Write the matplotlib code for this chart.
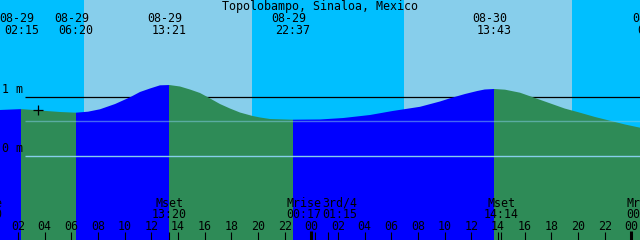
import numpy as np
import pandas as pd
import matplotlib
matplotlib.use("Agg")
import matplotlib.pyplot as plt
from matplotlib.patches import Polygon

# ── data ──────────────────────────────────────────────────────────
TITLE = "Topolobampo, Sinaloa, Mexico"

tide_when = ["08-29 02:15", "08-29 06:20", "08-29 13:21", "08-29 22:37",
             "08-30 13:43", "08-31 01:44"]
tide_kind = ["high", "low", "high", "low", "high", "low"]

moon_when = ["08-28 23:30", "08-29 13:20", "08-30 00:17", "08-30 01:15",
             "08-30 14:14", "08-31 00:58"]
moon_what = ["Mrise", "Mset", "Mrise", "3rd/4", "Mset", "Mrise"]

sunrise = ["08-29 06:55", "08-30 06:55"]
sunset = ["08-29 19:34", "08-30 19:33"]

# water level (m) sampled off the curve, hours after 08-29 00:00
curve_hours = [0.65, 2.25, 3.65, 5.15, 6.33, 7.25, 8.15, 9.28, 10.4, 11.15,
               11.9, 12.65, 13.35, 14.15, 14.9, 15.65, 16.25, 17.15, 17.9,
               18.65, 19.6, 20.15, 20.9, 22.62, 24.65, 26.4, 28.4, 30.1, 32.15,
               33.65, 34.4, 35.53, 36.45, 37.0, 37.72, 38.53, 39.65, 40.78,
               41.9, 43.0, 44.15, 45.28, 46.4, 47.53, 48.65]
curve_m = [0.785, 0.80, 0.776, 0.751, 0.739, 0.756, 0.797, 0.886, 1.00, 1.09,
           1.149, 1.203, 1.208, 1.183, 1.132, 1.073, 1.00, 0.886, 0.81,
           0.742, 0.683, 0.658, 0.632, 0.62, 0.624, 0.649, 0.70, 0.768, 0.839,
           0.929, 0.983, 1.056, 1.107, 1.132, 1.141, 1.129, 1.078, 0.988,
           0.898, 0.81, 0.739, 0.666, 0.603, 0.539, 0.485]

level_marks = [1.0, 0.0]
mean_level = 0.60

# ── palette ───────────────────────────────────────────────────────
NIGHT = "#00BFFF"
DAY = "#87CEEB"
FLOOD = "#0000FF"
EBB = "#2E8B57"
MARK = "#87CEEB"

# ── geometry: 640 x 240 px, 48 h across ───────────────────────────
W, H = 640, 240
T0 = 0.65            # hours at left edge
PXH = W / 48.0       # px per hour
Y0 = 156.3           # px row of 0 m
PXM = 59.0           # px per metre

FONT = dict(family="DejaVu Sans Mono", fontsize=8.4, color="black")


def hours(s):
    d = pd.to_datetime("1900-" + s, format="%Y-%m-%d %H:%M")
    return (d - pd.Timestamp("1900-08-29")).total_seconds() / 3600.0


def ypx(py):
    return (Y0 - py) / PXM


def xpx(px):
    return T0 + px / PXH


def spread(xs, w):
    xs = list(xs)
    for i in range(1, len(xs)):
        gap = xs[i] - xs[i - 1]
        if gap < w:
            push = (w - gap) / 2
            xs[i - 1] -= push
            xs[i] += push
    return xs


fig = plt.figure(figsize=(W / 100, H / 100), dpi=100)
ax = fig.add_axes([0, 0, 1, 1])
ax.set_xlim(T0, T0 + 48)
ax.set_ylim(ypx(H), ypx(0))
ax.set_axis_off()

# night background, day bands
ax.add_patch(plt.Rectangle((T0, ypx(H)), 48, ypx(0) - ypx(H),
                           facecolor=NIGHT, edgecolor="none", zorder=0))
for a, b in zip(sunrise, sunset):
    ax.axvspan(hours(a), hours(b), facecolor=DAY, edgecolor="none", zorder=0.5)

# 1 m line sits behind the water
x_line0 = xpx(25)
ax.hlines(1.0, x_line0, T0 + 48, color="black", lw=0.9, zorder=1)

# water body, coloured by rising (flood) / falling (ebb)
t = np.array(curve_hours)
h = np.array(curve_m)
bottom = ypx(H + 2)
verts = np.column_stack([np.r_[t[0], t, t[-1]], np.r_[bottom, h, bottom]])
water = Polygon(verts, closed=True, facecolor="none", edgecolor="none")
ax.add_patch(water)

ev_t = [hours(s) for s in tide_when]
bounds = [T0] + ev_t
for i in range(len(ev_t)):
    a, b = bounds[i], bounds[i + 1]
    col = FLOOD if tide_kind[i] == "high" else EBB
    span = ax.axvspan(a, b, facecolor=col, edgecolor="none", zorder=2)
    span.set_clip_path(water)

# level lines over the water
ax.hlines(0.0, x_line0, T0 + 48, color=MARK, lw=1.0, zorder=3)
ax.hlines(mean_level, x_line0, T0 + 48, color=MARK, lw=1.0, alpha=0.5, zorder=3)
for lv in level_marks:
    ax.text(xpx(2), ypx(Y0 - lv * PXM - 4.3), f"{lv:.0f} m", ha="left",
            va="baseline", zorder=5, **FONT)

# "now" cross
ax.plot([hours("08-29 03:30")], [0.78], marker="+", ms=6.5, mew=0.9,
        color="black", zorder=5)

# title
ax.text(xpx(W / 2), ypx(9.6), TITLE, ha="center", va="baseline", zorder=5,
        **FONT)

# tide event labels along the top
for s in tide_when:
    x = hours(s)
    day, clock = s.split()
    ax.text(x - 4.5 / PXH, ypx(21.7), day, ha="center", va="baseline",
            zorder=5, **FONT)
    ax.text(x, ypx(34.0), clock, ha="center", va="baseline", zorder=5, **FONT)

# moon events along the bottom
moon_t = [hours(s) for s in moon_when]
label_x = spread(moon_t, 36 / PXH)
for x, lx, s, name in zip(moon_t, label_x, moon_when, moon_what):
    ax.vlines(x, ypx(232), ypx(H), color="black", lw=0.8, zorder=4)
    ax.text(lx, ypx(206.6), name, ha="center", va="baseline", zorder=5, **FONT)
    ax.text(lx, ypx(217.8), s.split()[1], ha="center", va="baseline",
            zorder=5, **FONT)

# hour ticks
for hr in range(2, 49, 2):
    midnight = hr % 24 == 0
    ax.vlines(hr, ypx(231 if midnight else 232), ypx(H), color="black",
              lw=2.2 if midnight else 0.8, zorder=4)
    ax.text(hr, ypx(229.6), f"{hr % 24:02d}", ha="center", va="baseline",
            zorder=5, **FONT)

fig.savefig("out.png", dpi=100)
